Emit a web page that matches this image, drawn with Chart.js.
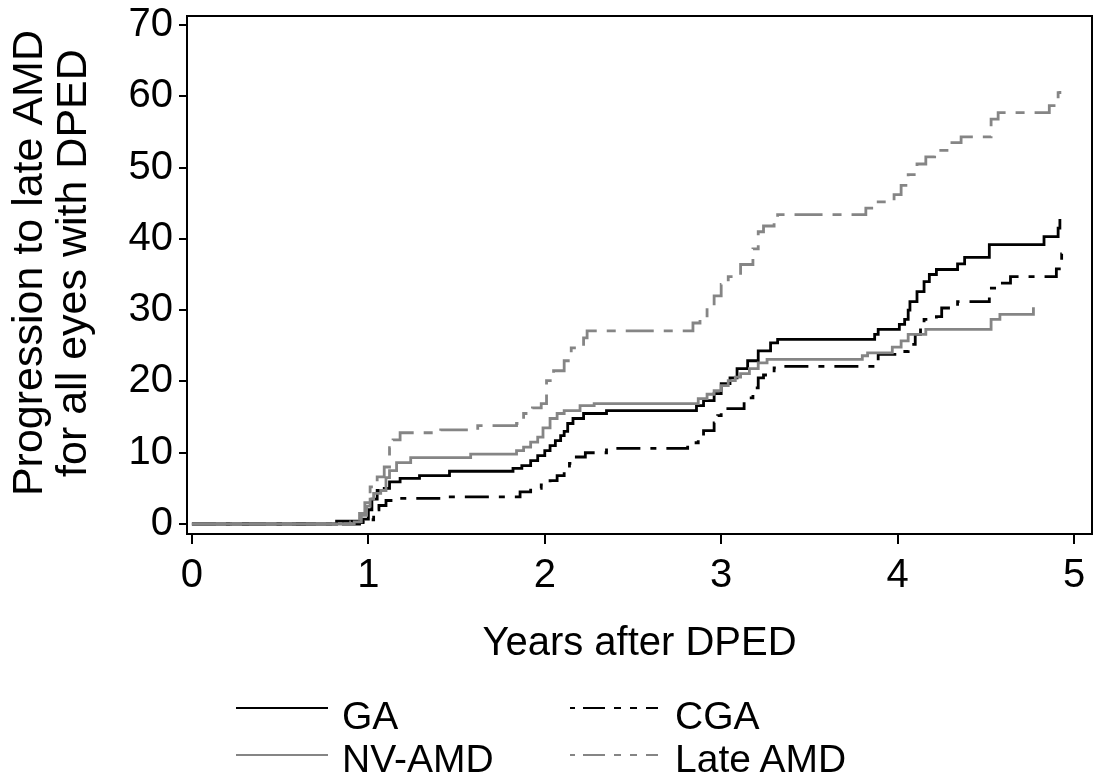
<!DOCTYPE html>
<html lang="en">
<head>
    <meta charset="UTF-8">
    <title>Progression to late AMD</title>
    <script src="https://cdn.jsdelivr.net/npm/chart.js"></script>
    <style>
        body {
            margin: 0;
            background: #fff;
            font-family: "Liberation Sans", Arial, sans-serif;
        }
        .wrap {
            position: relative;
            width: 1095px;
            height: 781px;
        }
        canvas {
            position: absolute;
            left: 0;
            top: 0;
        }
        .key {
            position: absolute;
        }
        .label {
            position: absolute;
            font-size: 39px;
            line-height: 45px;
            color: #000;
            white-space: nowrap;
        }
    </style>
</head>
<body>
    <div class="wrap">
        <canvas id="kmChart" width="1095" height="781"></canvas>
        <div id="legend"></div>
    </div>

    <script>
        // ticks
        const xTicks = [0, 1, 2, 3, 4, 5];
        const yTicks = [0, 10, 20, 30, 40, 50, 60, 70];

        // series: [years after DPED, cumulative % progressed]
        const gaSteps = [[0,0],[0.82,0.4],[0.97,0.7],[1.00,2.0],[1.02,3.5],[1.05,4.7],[1.09,5.0],[1.12,5.9],[1.18,6.4],[1.29,6.8],
            [1.46,7.4],[1.82,7.8],[1.87,8.2],[1.92,8.9],[1.96,9.6],[2.00,10.3],[2.03,11.0],[2.06,11.7],[2.09,12.4],[2.11,13.0],
            [2.13,14.1],[2.16,14.8],[2.22,15.5],[2.35,15.9],[2.86,16.6],[2.90,17.3],[2.96,18.3],[3.00,19.7],[3.05,20.5],[3.09,21.8],
            [3.15,22.9],[3.21,24.3],[3.28,25.4],[3.32,25.9],[3.87,26.6],[3.89,27.3],[4.01,28.0],[4.04,28.7],[4.06,30.0],[4.07,31.2],
            [4.11,32.6],[4.15,34.0],[4.18,35.0],[4.22,35.7],[4.34,36.5],[4.38,37.4],[4.52,39.2],[4.83,40.3],[4.91,41.5],[4.92,42.8]];

        const nvSteps = [[0,0],[0.92,0.3],[0.96,1.2],[0.99,2.5],[1.01,3.5],[1.03,4.3],[1.07,4.7],[1.10,6.5],[1.12,7.5],[1.16,8.6],
            [1.24,9.3],[1.58,9.8],[1.84,10.3],[1.88,10.8],[1.92,11.5],[1.96,12.2],[1.99,13.5],[2.03,14.8],[2.07,15.5],[2.11,15.9],
            [2.20,16.6],[2.28,16.9],[2.87,17.6],[2.92,18.2],[2.96,18.7],[3.00,19.4],[3.04,20.1],[3.08,20.6],[3.11,21.1],[3.16,21.8],
            [3.21,22.6],[3.26,23.1],[3.80,23.6],[3.83,24.0],[3.97,24.8],[4.02,25.7],[4.06,26.6],[4.16,27.3],[4.53,28.7],[4.58,29.4],
            [4.77,30.4]];

        const cgaSteps = [[0,0],[0.95,0.2],[1.01,0.6],[1.03,2.0],[1.06,2.6],[1.10,3.3],[1.16,3.6],[1.45,3.8],[1.86,4.5],[1.92,5.0],
            [1.98,5.5],[2.03,6.1],[2.07,6.8],[2.11,7.6],[2.14,8.5],[2.16,9.4],[2.23,10.0],[2.35,10.6],[2.81,11.4],[2.87,12.0],
            [2.90,13.1],[2.96,14.2],[2.98,15.2],[3.00,16.2],[3.13,17.7],[3.18,19.1],[3.21,20.5],[3.24,20.9],[3.30,21.9],[3.33,22.1],
            [3.87,22.6],[3.89,23.8],[4.03,24.2],[4.06,25.2],[4.10,26.6],[4.13,27.8],[4.15,28.7],[4.22,29.1],[4.25,30.3],[4.34,31.2],
            [4.52,33.1],[4.55,33.8],[4.64,34.7],[4.90,35.8],[4.93,37.9],[4.94,38.5]];

        const lateSteps = [[0,0],[0.90,0.3],[0.95,1.5],[0.98,3.0],[1.01,5.2],[1.05,6.6],[1.09,8.0],[1.12,10.7],[1.14,11.8],[1.18,12.8],
            [1.41,13.2],[1.62,13.8],[1.84,14.1],[1.88,15.5],[1.93,16.3],[1.98,16.9],[2.01,20.1],[2.05,21.5],[2.11,22.9],[2.15,24.7],
            [2.22,26.1],[2.24,27.1],[2.84,28.2],[2.88,28.9],[2.92,30.3],[2.96,32.0],[3.00,33.6],[3.04,34.7],[3.11,36.4],[3.18,38.6],
            [3.21,41.0],[3.24,41.8],[3.30,43.1],[3.32,43.4],[3.82,44.3],[3.89,45.2],[3.98,46.2],[4.02,47.5],[4.06,49.0],[4.11,50.5],
            [4.16,51.5],[4.21,52.4],[4.30,53.5],[4.36,54.3],[4.53,56.8],[4.57,57.7],[4.86,58.7],[4.91,60.5],[4.92,61.2]];

        const FONT = '"Liberation Sans", Arial, sans-serif';
        const BLACK = '#000000';
        const GREY = '#858585';

        function toPoints(steps) {
            return steps.map(([x, y]) => ({ x, y }));
        }

        // legend, drawn in html under the plot (two columns like the original)
        const legendItems = [
            { label: 'GA', color: BLACK, dash: '', col: 0, row: 0 },
            { label: 'CGA', color: BLACK, dash: '5 8 22 9 7 9 7 9 12', col: 1, row: 0 },
            { label: 'NV-AMD', color: GREY, dash: '', col: 0, row: 1 },
            { label: 'Late AMD', color: GREY, dash: '5 8 22 9 7 9 7 9 12', col: 1, row: 1 }
        ];
        const legendEl = document.getElementById('legend');
        legendItems.forEach(item => {
            const lineX = item.col === 0 ? 236 : 570;
            const lineY = item.row === 0 ? 708 : 755;
            const textX = item.col === 0 ? 342 : 675;
            const textY = item.row === 0 ? 693 : 736;
            const key = document.createElementNS('http://www.w3.org/2000/svg', 'svg');
            key.setAttribute('class', 'key');
            key.setAttribute('width', '93');
            key.setAttribute('height', '10');
            key.style.left = lineX + 'px';
            key.style.top = (lineY - 5) + 'px';
            key.innerHTML = `<line x1="0" y1="5" x2="92" y2="5" stroke="${item.color}" stroke-width="2"` +
                (item.dash ? ` stroke-dasharray="${item.dash}"` : '') + '/>';
            legendEl.appendChild(key);
            const txt = document.createElement('div');
            txt.className = 'label';
            txt.style.left = textX + 'px';
            txt.style.top = textY + 'px';
            txt.textContent = item.label;
            legendEl.appendChild(txt);
        });

        // box round the plot region
        const frame = {
            id: 'frame',
            afterDatasetsDraw(chart) {
                const { ctx, chartArea: a } = chart;
                ctx.save();
                ctx.strokeStyle = BLACK;
                ctx.lineWidth = 2;
                ctx.strokeRect(a.left, a.top, a.right - a.left, a.bottom - a.top);
                ctx.restore();
            }
        };

        const line = (label, steps, color, dash) => ({
            label,
            data: toPoints(steps),
            borderColor: color,
            backgroundColor: color,
            borderWidth: 2.8,
            borderDash: dash,
            stepped: true,
            pointRadius: 0,
            fill: false
        });

        // no extra room for half tick labels, the box sits where the original has it
        const noPad = s => {
            s.paddingTop = 0;
            s.paddingBottom = 0;
            s.paddingLeft = 0;
            s.paddingRight = 0;
        };

        new Chart(document.getElementById('kmChart'), {
            type: 'line',
            data: {
                datasets: [
                    line('NV-AMD', nvSteps, GREY, []),
                    line('Late AMD', lateSteps, GREY, [28, 10, 9, 10]),
                    line('GA', gaSteps, BLACK, []),
                    line('CGA', cgaSteps, BLACK, [24, 10, 6, 10])
                ]
            },
            options: {
                responsive: false,
                animation: false,
                layout: {
                    autoPadding: false,
                    padding: { left: 8, top: 16, right: 3, bottom: 113 }
                },
                plugins: {
                    legend: { display: false },
                    tooltip: { enabled: false }
                },
                scales: {
                    x: {
                        type: 'linear',
                        min: -0.028,
                        max: 5.102,
                        afterBuildTicks: s => { s.ticks = xTicks.map(v => ({ value: v })); },
                        afterFit: s => { s.height = 134; noPad(s); },
                        border: { display: false },
                        grid: { drawOnChartArea: false, tickLength: 10, color: BLACK, lineWidth: 2 },
                        ticks: { font: { size: 40, family: FONT }, color: BLACK, padding: 8, maxRotation: 0, autoSkip: false },
                        title: {
                            display: true,
                            text: 'Years after DPED',
                            color: BLACK,
                            padding: 0,
                            font: { size: 40, family: FONT, lineHeight: 1.2 }
                        }
                    },
                    y: {
                        type: 'linear',
                        min: -1.4,
                        max: 71.26,
                        afterBuildTicks: s => { s.ticks = yTicks.map(v => ({ value: v })); },
                        afterFit: s => { s.width = 179; noPad(s); },
                        border: { display: false },
                        grid: { drawOnChartArea: false, tickLength: 8, color: BLACK, lineWidth: 2 },
                        ticks: { font: { size: 40, family: FONT }, color: BLACK, padding: 6, autoSkip: false },
                        title: {
                            display: true,
                            // two leading spaces nudge the centred title up a little, as in the original
                            text: ['  Progression to late AMD', '  for all eyes with DPED'],
                            color: BLACK,
                            padding: 0,
                            font: { size: 43, family: FONT, lineHeight: 1.03 }
                        }
                    }
                }
            },
            plugins: [frame]
        });
    </script>
</body>
</html>
